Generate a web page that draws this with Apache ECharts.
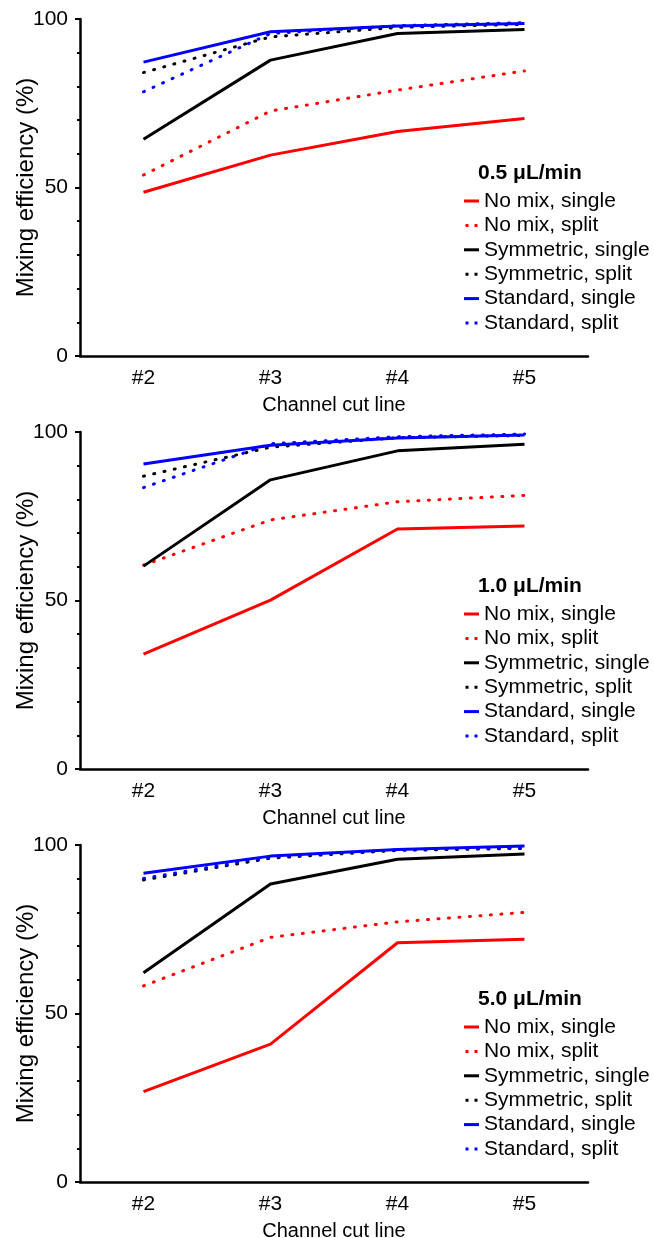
<!DOCTYPE html>
<html>
<head>
<meta charset="utf-8">
<title>Mixing efficiency</title>
<script src="https://cdn.jsdelivr.net/npm/echarts@6/dist/echarts.min.js"></script>
<style>
body{margin:0;padding:0;background:#fff;}
#echart{width:654px;height:1238px;}
</style>
</head>
<body>
<div id="echart"></div>
<script>
var cats = ['#2', '#3', '#4', '#5'];
var flowRates = ['0.5 μL/min', '1.0 μL/min', '5.0 μL/min'];
var seriesNames = ['No mix, single', 'No mix, split', 'Symmetric, single', 'Symmetric, split', 'Standard, single', 'Standard, split'];

// 0.5 uL/min
var noMixSingle05 = [48.6, 59.6, 66.6, 70.5];
var noMixSplit05 = [53.7, 72.7, 78.9, 84.6];
var symSingle05 = [64.3, 87.8, 95.7, 96.9];
var symSplit05 = [84.1, 94.7, 97.5, 98.4];
var stdSingle05 = [87.2, 96.2, 97.9, 98.7];
var stdSplit05 = [78.4, 95.7, 98.0, 98.9];

// 1.0 uL/min
var noMixSingle10 = [34.1, 50.1, 71.2, 72.1];
var noMixSplit10 = [60.5, 73.9, 79.3, 81.2];
var symSingle10 = [60.2, 85.8, 94.4, 96.4];
var symSplit10 = [86.9, 95.5, 98.3, 99.0];
var stdSingle10 = [90.5, 96.1, 98.2, 99.1];
var stdSplit10 = [83.5, 96.5, 98.6, 99.4];

// 5.0 uL/min
var noMixSingle50 = [26.8, 40.9, 71.0, 72.0];
var noMixSplit50 = [58.2, 72.6, 77.2, 80.0];
var symSingle50 = [62.1, 88.4, 95.8, 97.3];
var symSplit50 = [89.6, 96.1, 98.4, 99.0];
var stdSingle50 = [91.6, 96.7, 98.7, 99.7];
var stdSplit50 = [90.1, 96.4, 98.6, 99.2];

var panelData = [
	[noMixSingle05, noMixSplit05, symSingle05, symSplit05, stdSingle05, stdSplit05],
	[noMixSingle10, noMixSplit10, symSingle10, symSplit10, stdSingle10, stdSplit10],
	[noMixSingle50, noMixSplit50, symSingle50, symSplit50, stdSingle50, stdSplit50]
];

var colors = ['#ff0000', '#ff0000', '#000000', '#000000', '#0000ff', '#0000ff'];
var dotted = [false, true, false, true, false, true];
var font = 'Liberation Sans, Arial, sans-serif';

// legend icons: short bar for solid, two dots for dotted
var solidIcon = 'path://M0,0h15v3h-15z';
var dotIcon = 'path://M0,0h3v3h-3z M9,0h3v3h-3z';
var legendData = [];
for (var i = 0; i < seriesNames.length; i++) {
	legendData.push({name: seriesNames[i], icon: dotted[i] ? dotIcon : solidIcon});
}

var grids = [], xAxes = [], yAxes = [], series = [], legends = [], titles = [];
var panelTops = [19, 432, 845];

for (var p = 0; p < 3; p++) {
	var panelTop = panelTops[p];
	grids.push({left: 80, top: panelTop, width: 508, height: 337, outerBoundsMode: 'none', containLabel: false});
	xAxes.push({
		type: 'category', gridIndex: p, data: cats, boundaryGap: true,
		name: 'Channel cut line', nameLocation: 'middle', nameGap: 39, nameMoveOverlap: false,
		nameTextStyle: {color: '#000', fontSize: 20, fontFamily: font},
		axisLine: {lineStyle: {color: '#000', width: 2.5}},
		axisTick: {alignWithLabel: true, length: 4, lineStyle: {color: '#000', width: 2}},
		axisLabel: {color: '#000', fontSize: 21, fontFamily: font, margin: 12},
		splitLine: {show: false}
	});
	yAxes.push({
		type: 'value', gridIndex: p, min: 0, max: 100, interval: 50,
		name: 'Mixing efficiency (%)', nameLocation: 'middle', nameGap: 42, nameMoveOverlap: false,
		nameTextStyle: {color: '#000', fontSize: 24, fontFamily: font},
		axisLine: {show: true, lineStyle: {color: '#000', width: 2.5}},
		axisTick: {show: true, length: 5, lineStyle: {color: '#000', width: 2}},
		minorTick: {show: true, splitNumber: 5, length: 3, lineStyle: {color: '#000', width: 2}},
		axisLabel: {color: '#000', fontSize: 21, fontFamily: font, margin: 12},
		splitLine: {show: false}
	});
	for (var s = 0; s < 6; s++) {
		series.push({
			name: seriesNames[s],
			type: 'line',
			xAxisIndex: p, yAxisIndex: p,
			data: panelData[p][s],
			symbol: 'none',
			itemStyle: {color: colors[s]},
			lineStyle: dotted[s] ? {color: colors[s], width: 3, type: [1, 9.5], cap: 'round'}
				: {color: colors[s], width: 3}
		});
	}
	titles.push({
		text: flowRates[p], left: 473, top: panelTop + 138.5,
		textStyle: {color: '#000', fontSize: 21, fontWeight: 'bold', fontFamily: font}
	});
	legends.push({
		data: legendData, orient: 'vertical', left: 459, top: panelTop + 166.5,
		itemWidth: 15, itemHeight: 3, itemGap: 3.4,
		selectedMode: false,
		itemStyle: {borderWidth: 0},
		textStyle: {color: '#000', fontSize: 21, fontFamily: font}
	});
}

var myChart = echarts.init(document.getElementById('echart'));
myChart.setOption({
	backgroundColor: '#fff',
	animation: false,
	title: titles,
	legend: legends,
	grid: grids,
	xAxis: xAxes,
	yAxis: yAxes,
	series: series
});
</script>
</body>
</html>
